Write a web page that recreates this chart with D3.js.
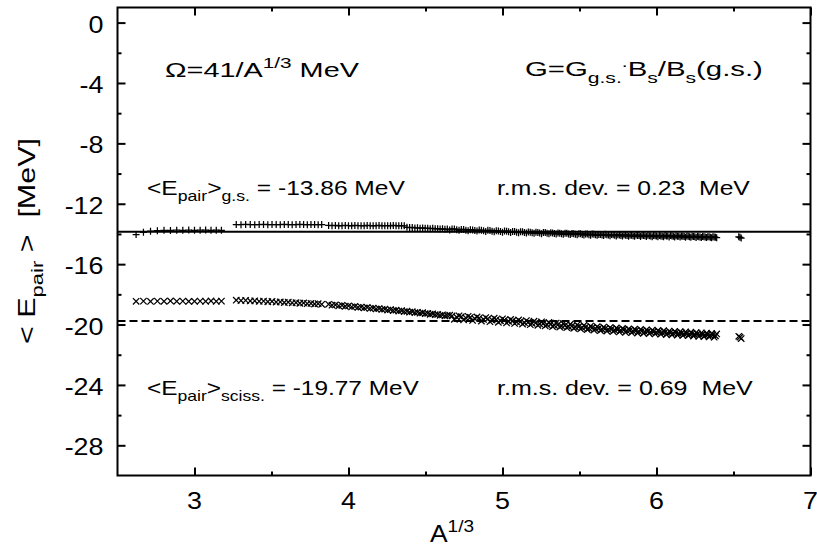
<!DOCTYPE html>
<html><head><meta charset="utf-8">
<script src="https://cdnjs.cloudflare.com/ajax/libs/d3/7.8.5/d3.min.js"></script>
<style>
body{margin:0;background:#fff}
svg{display:block}
text{font-family:"Liberation Sans", Arial, Helvetica, sans-serif; fill:#000; white-space:pre}
</style>
</head><body><svg id="c" width="817" height="547"></svg>
<script>
// ---- data ----
const massNumbers = [
 18,19,20,21,22,23,24,25,26,27,28,29,30,31,32,
 35,36,37,38,39,40,41,42,43,44,45,46,47,48,49,50,51,52,53,54,55,56,
 58,59,60,61,62,63,64,65,66,67,68,69,70,71,72,73,74,75,76,77,78,79,80,81,82,83,
 84,85,86,87,88,89,90,91,92,93,94,95,96,97,98,99,100,
 102,104,106,108,110,112,114,116,118,120,
 122,124,126,128,130,132,134,136,138,140,
 142,144,146,148,150,152,154,156,158,160,
 162,164,166,168,170,172,174,176,178,180,
 182,184,186,188,190,192,194,196,198,200,
 202,204,206,208,210,212,214,216,218,220,
 222,224,226,228,230,232,234,236,238,240,
 242,244,246,248,250,252,254,256,258,260,
 280];
const ePairGS = [
 -14.04,-13.89,-13.82,-13.78,-13.76,-13.77,-13.75,-13.76,-13.74,-13.76,-13.75,-13.74,-13.76,-13.75,-13.76,
 -13.38,-13.39,-13.37,-13.38,-13.39,-13.38,-13.37,-13.39,-13.38,-13.38,-13.39,-13.37,-13.38,-13.39,-13.38,-13.37,-13.38,-13.39,-13.38,-13.38,-13.39,-13.38,
 -13.44,-13.45,-13.44,-13.46,-13.45,-13.44,-13.45,-13.46,-13.44,-13.45,-13.45,-13.46,-13.44,-13.45,-13.46,-13.45,-13.44,-13.46,-13.45,-13.45,-13.46,-13.44,-13.45,-13.46,-13.45,-13.46,
 -13.56,-13.58,-13.57,-13.60,-13.59,-13.62,-13.60,-13.63,-13.62,-13.65,-13.63,-13.66,-13.65,-13.68,-13.66,-13.69,-13.68,
 -13.67,-13.72,-13.70,-13.75,-13.72,-13.77,-13.74,-13.79,-13.76,-13.82,
 -13.78,-13.84,-13.81,-13.86,-13.83,-13.88,-13.85,-13.90,-13.87,-13.92,
 -13.89,-13.94,-13.91,-13.96,-13.92,-13.97,-13.94,-13.99,-13.96,-14.01,
 -13.97,-14.02,-13.99,-14.03,-14.00,-14.05,-14.01,-14.06,-14.03,-14.07,
 -14.02,-14.07,-14.04,-14.08,-14.05,-14.10,-14.06,-14.11,-14.08,-14.12,
 -14.07,-14.11,-14.08,-14.12,-14.09,-14.13,-14.10,-14.14,-14.11,-14.15,
 -14.10,-14.14,-14.11,-14.15,-14.12,-14.16,-14.13,-14.17,-14.14,-14.18,
 -14.15,-14.19,-14.16,-14.20,-14.17,-14.21,-14.18,-14.22,-14.19,-14.22,
 -14.22];
const ePairSciss = [
 -18.46,-18.45,-18.47,-18.45,-18.46,-18.44,-18.46,-18.45,-18.47,-18.46,-18.45,-18.46,-18.44,-18.46,-18.45,
 -18.39,-18.41,-18.40,-18.44,-18.43,-18.46,-18.45,-18.49,-18.47,-18.51,-18.50,-18.54,-18.52,-18.56,-18.55,-18.59,-18.57,-18.61,-18.60,-18.64,-18.62,-18.66,
 -18.66,-18.72,-18.70,-18.76,-18.73,-18.79,-18.77,-18.83,-18.80,-18.86,-18.84,-18.90,-18.87,-18.93,-18.91,-18.97,-18.94,-19.00,-18.98,-19.04,-19.01,-19.07,-19.05,-19.11,-19.08,-19.14,
 -19.12,-19.18,-19.15,-19.21,-19.19,-19.25,-19.22,-19.28,-19.26,-19.32,-19.29,-19.35,-19.33,-19.39,-19.36,-19.42,-19.40,
 -19.43,-19.51,-19.48,-19.56,-19.52,-19.61,-19.57,-19.66,-19.62,-19.70,
 -19.67,-19.75,-19.71,-19.79,-19.75,-19.83,-19.80,-19.88,-19.84,-19.92,
 -19.88,-19.96,-19.93,-20.01,-19.97,-20.05,-20.01,-20.09,-20.05,-20.13,
 -20.09,-20.17,-20.13,-20.21,-20.17,-20.25,-20.21,-20.28,-20.24,-20.32,
 -20.27,-20.34,-20.29,-20.37,-20.32,-20.39,-20.34,-20.42,-20.37,-20.44,
 -20.39,-20.47,-20.42,-20.49,-20.44,-20.51,-20.46,-20.53,-20.48,-20.55,
 -20.50,-20.57,-20.52,-20.59,-20.54,-20.61,-20.56,-20.63,-20.58,-20.65,
 -20.60,-20.67,-20.62,-20.69,-20.64,-20.71,-20.66,-20.73,-20.68,-20.75,
 -20.84];
// second set of nuclei (odd A, heavy region)
const massNumbers2 = [
 101,103,105,107,109,111,113,115,117,119,
 121,123,125,127,129,131,133,135,137,139,
 141,143,145,147,149,151,153,155,157,159,
 161,163,165,167,169,171,173,175,177,179,
 181,183,185,187,189,191,193,195,197,199,
 201,203,205,207,209,211,213,215,217,219,
 221,223,225,227,229,231,233,235,237,239,
 241,243,245,247,249,251,253,255,257,259,
 261,279,281];
const ePairGS2 = [
 -13.73,-13.67,-13.76,-13.70,-13.79,-13.73,-13.81,-13.75,-13.83,-13.77,
 -13.86,-13.80,-13.88,-13.82,-13.90,-13.84,-13.92,-13.86,-13.94,-13.88,
 -13.96,-13.90,-13.98,-13.91,-13.99,-13.93,-14.01,-13.95,-14.02,-13.96,
 -14.04,-13.98,-14.05,-13.99,-14.07,-14.01,-14.08,-14.02,-14.09,-14.03,
 -14.10,-14.05,-14.12,-14.06,-14.13,-14.07,-14.14,-14.08,-14.15,-14.09,
 -14.16,-14.10,-14.17,-14.11,-14.17,-14.12,-14.18,-14.12,-14.19,-14.13,
 -14.19,-14.14,-14.20,-14.14,-14.21,-14.15,-14.21,-14.16,-14.22,-14.16,
 -14.22,-14.17,-14.23,-14.18,-14.24,-14.18,-14.24,-14.19,-14.25,-14.20,
 -14.25,-14.19,-14.27];
const ePairSciss2 = [
 -19.38,-19.65,-19.42,-19.69,-19.46,-19.73,-19.50,-19.77,-19.54,-19.81,
 -19.58,-19.85,-19.62,-19.89,-19.66,-19.93,-19.70,-19.97,-19.74,-20.01,
 -19.78,-20.05,-19.82,-20.09,-19.86,-20.13,-19.90,-20.17,-19.94,-20.21,
 -19.98,-20.25,-20.02,-20.29,-20.06,-20.33,-20.10,-20.37,-20.14,-20.40,
 -20.17,-20.43,-20.20,-20.46,-20.23,-20.49,-20.26,-20.52,-20.29,-20.54,
 -20.31,-20.56,-20.33,-20.58,-20.35,-20.60,-20.37,-20.62,-20.39,-20.64,
 -20.41,-20.66,-20.43,-20.68,-20.45,-20.70,-20.47,-20.72,-20.49,-20.74,
 -20.51,-20.76,-20.53,-20.78,-20.55,-20.80,-20.57,-20.82,-20.59,-20.84,
 -20.62,-20.78,-20.93];
const meanGS = -13.86, meanSciss = -19.77;
const rmsGS = 0.23, rmsSciss = 0.69;
const xMajorTicks = [3,4,5,6,7];
const xMinorTicks = [3.5,4.5,5.5,6.5];
const yMajorTicks = [0,-4,-8,-12,-16,-20,-24,-28];
const yMinorTicks = [-2,-6,-10,-14,-18,-22,-26];
const xDomain = [2.5, 7], yDomain = [-30, 1];

// ---- layout ----
const L = 117.5, R = 810.5, T = 7.5, B = 475.5;
const svg = d3.select('#c');
const x = d3.scaleLinear().domain(xDomain).range([L, R]);
const y = d3.scaleLinear().domain(yDomain).range([B, T]);

// reference lines
svg.append('line').attr('x1', L).attr('x2', R).attr('y1', y(meanGS)).attr('y2', y(meanGS))
  .attr('stroke', '#000').attr('stroke-width', 2);
svg.append('line').attr('x1', L).attr('x2', R).attr('y1', y(meanSciss)).attr('y2', y(meanSciss))
  .attr('stroke', '#000').attr('stroke-width', 2).attr('stroke-dasharray', '8,4');

// points
const toPts = (As, Es) => As.map((a, i) => ({a: Math.cbrt(a), e: Es[i]}));
const gsPts = toPts(massNumbers, ePairGS).concat(toPts(massNumbers2, ePairGS2));
const scPts = toPts(massNumbers, ePairSciss).concat(toPts(massNumbers2, ePairSciss2));
const s1 = 3.5, s2 = 3.2;
svg.append('g').selectAll('path').data(gsPts).join('path')
  .attr('transform', d => `translate(${x(d.a)},${y(d.e)})`)
  .attr('d', `M${-s1},0H${s1}M0,${-s1}V${s1}`)
  .attr('stroke', '#000').attr('stroke-width', 1.25).attr('fill', 'none');
svg.append('g').selectAll('path').data(scPts).join('path')
  .attr('transform', d => `translate(${x(d.a)},${y(d.e)})`)
  .attr('d', `M${-s2},${-s2}L${s2},${s2}M${-s2},${s2}L${s2},${-s2}`)
  .attr('stroke', '#000').attr('stroke-width', 1.25).attr('fill', 'none');

// axes (ticks inward, mirrored)
function ticks(axis, vals, size) {
  return axis.tickValues(vals).tickSizeInner(size).tickSizeOuter(0).tickFormat('');
}
const axG = svg.append('g');
[[d3.axisBottom(x), `translate(0,${B})`, xMajorTicks, -8], [d3.axisBottom(x), `translate(0,${B})`, xMinorTicks, -4],
 [d3.axisTop(x), `translate(0,${T})`, xMajorTicks, -8], [d3.axisTop(x), `translate(0,${T})`, xMinorTicks, -4],
 [d3.axisLeft(y), `translate(${L},0)`, yMajorTicks, -8], [d3.axisLeft(y), `translate(${L},0)`, yMinorTicks, -4],
 [d3.axisRight(y), `translate(${R},0)`, yMajorTicks, -8], [d3.axisRight(y), `translate(${R},0)`, yMinorTicks, -4]]
 .forEach(([ax, tr, vals, sz]) => {
   const g = axG.append('g').attr('transform', tr).call(ticks(ax, vals, sz));
   g.select('.domain').remove();
   g.selectAll('line').attr('stroke', '#000').attr('stroke-width', 2);
 });
svg.append('rect').attr('x', L).attr('y', T).attr('width', R - L).attr('height', B - T)
  .attr('fill', 'none').attr('stroke', '#000').attr('stroke-width', 2);

// tick labels
const tickFs = 24, tickSx = 1.12;
svg.append('g').selectAll('text').data(xMajorTicks).join('text')
  .attr('transform', d => `translate(${x(d)},${B + 33}) scale(${tickSx},1)`)
  .attr('text-anchor', 'middle').attr('font-size', tickFs).text(d => d);
svg.append('g').selectAll('text').data(yMajorTicks).join('text')
  .attr('transform', d => `translate(${L - 14},${y(d) + 10}) scale(${tickSx},1)`)
  .attr('text-anchor', 'end').attr('font-size', tickFs).text(d => d);

// rich text helper
function rich(px, py, parts, size, targetW, rot, sxFixed) {
  const g = svg.append('g');
  const t = g.append('text').attr('font-size', size);
  let shift = 0;
  parts.forEach(p => {
    const want = p.sub ? 0.32 * size : p.sup ? -0.42 * size : 0;
    const ts = t.append('tspan').text(p.t).attr('dy', want - shift);
    if (p.sub || p.sup) ts.attr('font-size', size * 0.72);
    shift = want;
  });
  const w = t.node().getComputedTextLength();
  const sx = targetW ? targetW / w : (sxFixed || 1);
  g.attr('transform', `translate(${px},${py})` + (rot ? ` rotate(${rot})` : '') + ` scale(${sx},1)`);
  return g;
}

rich(165, 77, [{t:'Ω=41/A'},{t:'1/3',sup:1},{t:' MeV'}], 21, 194);
rich(525, 76, [{t:'G=G'},{t:'g.s.',sub:1},{t:'.',sup:1},{t:'B'},{t:'s',sub:1},{t:'/B'},{t:'s',sub:1},{t:'(g.s.)'}], 21, 238);
rich(147, 195, [{t:'<E'},{t:'pair',sub:1},{t:'>'},{t:'g.s.',sub:1},{t:' = ' + meanGS.toFixed(2) + ' MeV'}], 20, 258);
rich(497, 195, [{t:'r.m.s. dev. = ' + rmsGS.toFixed(2) + '  MeV'}], 20, 253);
rich(147, 395, [{t:'<E'},{t:'pair',sub:1},{t:'>'},{t:'sciss.',sub:1},{t:' = ' + meanSciss.toFixed(2) + ' MeV'}], 20, 272);
rich(497, 395, [{t:'r.m.s. dev. = ' + rmsSciss.toFixed(2) + '  MeV'}], 20, 256);
rich(35, 344, [{t:'< E'},{t:'pair',sub:1},{t:' >  [MeV]'}], 24, 206, -90);
rich(430, 542, [{t:'A'},{t:'1/3',sup:1}], 24, null, 0, 1.1);
</script>
</body></html>
